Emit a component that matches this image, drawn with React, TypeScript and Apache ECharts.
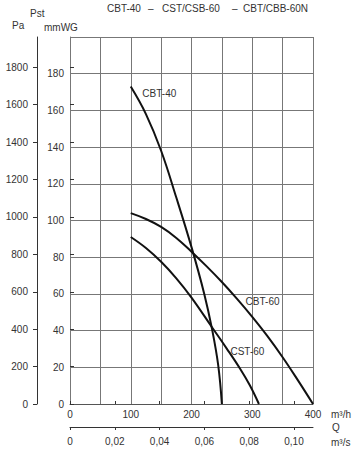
import React, { useEffect, useRef } from "react";
import * as echarts from "echarts";

// Flow in m3/h, static pressure in mmWG
const cbt40: [number, number][] = [
  [100, 173], [125, 158], [150, 138], [175, 112.5], [200, 85.5], [221, 60],
  [234, 40.5], [244, 21], [250, 0],
];
const cbt60: [number, number][] = [
  [100, 104], [125, 100.8], [150, 96.5], [175, 90.5], [200, 83], [225, 75],
  [250, 66.5], [275, 57.3], [300, 47.5], [325, 37], [350, 25.5], [375, 13], [400, 0],
];
const cst60: [number, number][] = [
  [100, 91], [125, 85], [150, 77.5], [175, 68.5], [200, 58], [234, 41.7],
  [258, 30.2], [280, 19.2], [296, 10.2], [311, 0],
];
const paTicks = [0, 200, 400, 600, 800, 1000, 1200, 1400, 1600, 1800];
const qTicks = [0, 0.02, 0.04, 0.06, 0.08, 0.1];
const titleParts = ["CBT-40", "–", "CST/CSB-60", "–", "CBT/CBB-60N"];

const FONT = "Liberation Sans, Arial, sans-serif";
const TXT = "#333";

export default function App() {
  const ref = useRef<HTMLDivElement>(null);
  useEffect(() => {
    if (!ref.current) return;
    const chart = echarts.init(ref.current, undefined, { renderer: "svg" });
    const lbl = (name: string, coord: [number, number]) => ({
      symbol: "circle",
      symbolSize: 0,
      silent: true,
      label: { show: true, position: "inside", formatter: name, color: TXT, fontSize: 10, fontFamily: FONT },
      data: [{ coord }],
    });
    const line = (name: string, data: [number, number][], lc: [number, number]) => ({
      type: "line",
      name,
      data,
      xAxisIndex: 0,
      yAxisIndex: 0,
      showSymbol: false,
      smooth: 0.4,
      lineStyle: { color: "#111", width: 2 },
      markPoint: lbl(name, lc),
    });
    const titleX = [107, 148, 162, 232, 243];
    const text = (t: string, x: number, y: number, align = "left") => ({
      type: "text",
      x,
      y,
      style: { text: t, fill: TXT, font: `10px ${FONT}`, verticalAlign: "middle", align },
    });
    chart.setOption({
      animation: false,
      grid: { left: 70, right: 46, top: 37, bottom: 46, containLabel: false, outerBoundsMode: "none" },
      xAxis: [
        {
          type: "value", min: 0, max: 400, interval: 50, position: "bottom",
          axisLine: { show: true, lineStyle: { color: "#555", width: 1 } },
          axisTick: { show: false },
          splitLine: { show: true, lineStyle: { color: "#777", width: 1 } },
          axisLabel: {
            margin: 5, color: TXT, fontSize: 10, fontFamily: FONT,
            formatter: (v: number) => (v % 100 === 0 ? String(v) : ""),
          },
        },
        {
          type: "value", min: 0, max: 0.1085, position: "bottom", offset: 23,
          axisLine: { show: true, onZero: false, lineStyle: { color: "#333", width: 1 } },
          axisTick: { show: true, length: 3, customValues: qTicks, lineStyle: { color: "#333", width: 1 } },
          splitLine: { show: false },
          axisLabel: {
            margin: 9, color: TXT, fontSize: 10, fontFamily: FONT, customValues: qTicks,
            formatter: (v: number) => (v === 0 ? "0" : v.toFixed(2).replace(".", ",")),
          },
        },
        {
          type: "value", min: 0, max: 0.1085, position: "bottom", offset: 23,
          axisLine: { show: false },
          axisTick: { show: true, inside: true, length: 3, customValues: qTicks, lineStyle: { color: "#333", width: 1 } },
          splitLine: { show: false },
          axisLabel: { show: false },
        },
      ],
      yAxis: [
        {
          type: "value", min: 0, max: 200, interval: 20, position: "left",
          axisLine: { show: true, lineStyle: { color: "#777", width: 1 } },
          axisTick: { show: false },
          splitLine: { show: true, lineStyle: { color: "#777", width: 1 } },
          axisLabel: {
            margin: 6, color: TXT, fontSize: 10, fontFamily: FONT,
            formatter: (v: number) => (v >= 200 ? "" : String(v)),
          },
        },
        {
          type: "value", min: 0, max: 1962, position: "left", offset: 33,
          axisLine: { show: true, onZero: false, lineStyle: { color: "#333", width: 1 } },
          axisTick: { show: true, length: 4, customValues: paTicks, lineStyle: { color: "#333", width: 1 } },
          splitLine: { show: false },
          axisLabel: {
            margin: 9, color: TXT, fontSize: 10, fontFamily: FONT, customValues: paTicks,
            formatter: (v: number) => String(v),
          },
        },
        {
          type: "value", min: 0, max: 1962, position: "left", offset: 33,
          axisLine: { show: false },
          axisTick: { show: true, inside: true, length: 4, customValues: paTicks, lineStyle: { color: "#333", width: 1 } },
          splitLine: { show: false },
          axisLabel: { show: false },
        },
      ],
      graphic: [
        ...titleParts.map((t, i) => text(t, titleX[i], 8)),
        text("Pst", 30, 13),
        text("Pa", 12, 25),
        text("mmWG", 44, 27),
        text("m³/h", 331, 414),
        text("Q", 332, 427),
        text("m³/s", 331, 442),
      ],
      series: [
        line("CBT-40", cbt40, [147, 169]),
        line("CBT-60", cbt60, [317, 55.6]),
        line("CST-60", cst60, [292, 28.5]),
      ],
    });
    return () => chart.dispose();
  }, []);
  return <div ref={ref} style={{ position: "absolute", left: 0, top: 0, width: 359, height: 450 }} />;
}
